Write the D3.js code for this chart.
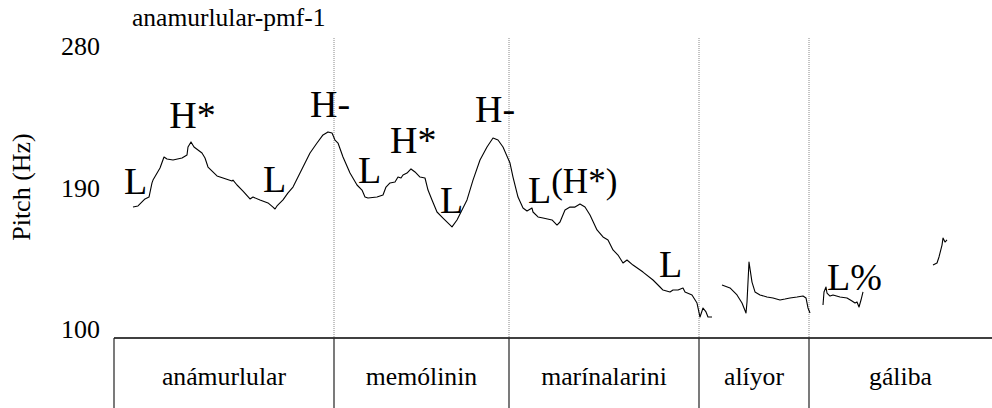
<!DOCTYPE html>
<html><head><meta charset="utf-8">
<script src="https://cdn.jsdelivr.net/npm/d3@7"></script>
<style>body{margin:0;background:#fff}svg{display:block}</style>
</head><body><div id="chart"></div>
<script>
const title = "anamurlular-pmf-1";
const yTicks = [100, 190, 280];
const yLabel = "Pitch (Hz)";
const words = ["anámurlular", "memólinin", "marínalarini", "alíyor", "gáliba"];
const boundaries = [0, 0.660, 1.185, 1.755, 2.085, 2.634];
// pitch contour segments: [time (s), F0 (Hz)]
const seg1 = [[0.057,182.4],[0.072,183.1],[0.093,187.5],[0.105,188.7],[0.114,197.6],[0.117,199.4],[0.138,207.0],[0.150,213.9],[0.159,212.7],[0.177,212.0],[0.204,213.3],[0.219,215.2],[0.222,220.2],[0.231,223.4],[0.240,220.2],[0.264,216.4],[0.273,213.3],[0.282,207.6],[0.309,202.0],[0.327,200.7],[0.354,198.8],[0.357,199.4],[0.369,196.3],[0.387,192.5],[0.408,187.5],[0.417,188.7],[0.438,186.9],[0.462,185.0],[0.477,182.4],[0.483,181.2],[0.489,183.1],[0.507,186.9],[0.522,191.3],[0.537,195.0],[0.552,201.3],[0.567,207.6],[0.588,216.4],[0.609,222.7],[0.627,227.8],[0.642,229.7],[0.654,229.0],[0.663,224.6],[0.672,222.7],[0.687,213.9],[0.708,203.8],[0.729,196.3],[0.744,193.1],[0.753,188.7],[0.762,188.1],[0.789,188.7],[0.807,190.0],[0.816,195.0],[0.828,197.6],[0.843,198.2],[0.852,201.3],[0.861,200.7],[0.867,202.6],[0.879,203.8],[0.891,206.4],[0.903,204.5],[0.918,201.3],[0.933,200.7],[0.942,193.1],[0.954,186.9],[0.969,179.3],[0.987,175.5],[1.014,169.9],[1.029,174.3],[1.044,180.6],[1.059,186.9],[1.077,199.4],[1.098,212.0],[1.119,220.2],[1.137,225.9],[1.152,224.6],[1.167,220.2],[1.188,210.1],[1.197,201.3],[1.212,188.7],[1.227,181.8],[1.239,179.9],[1.254,181.8],[1.257,179.3],[1.272,176.2],[1.287,175.5],[1.314,174.3],[1.329,171.1],[1.338,173.0],[1.353,180.6],[1.368,182.4],[1.383,182.4],[1.398,184.3],[1.413,182.4],[1.428,177.4],[1.449,168.0],[1.467,163.6],[1.482,161.7],[1.497,155.4],[1.512,152.2],[1.527,147.2],[1.539,149.1],[1.557,145.9],[1.587,141.5],[1.617,136.5],[1.638,132.1],[1.647,130.2],[1.668,129.0],[1.677,130.2],[1.692,130.2],[1.707,131.5],[1.713,129.0],[1.734,127.1],[1.749,122.0],[1.758,113.2],[1.767,118.9],[1.776,116.4],[1.782,113.2],[1.794,113.2]];
const seg2 = [[1.824,133.4],[1.848,131.5],[1.869,127.1],[1.884,122.0],[1.896,115.7],[1.899,122.7],[1.905,147.8],[1.914,135.2],[1.923,129.0],[1.938,127.1],[1.959,125.8],[1.977,125.2],[1.998,123.9],[2.013,124.5],[2.028,125.2],[2.049,125.8],[2.067,126.4],[2.076,125.2],[2.082,118.9],[2.088,115.7]];
const seg3 = [[2.127,120.8],[2.130,129.0],[2.136,132.1],[2.139,128.3],[2.148,126.4],[2.157,127.1],[2.178,125.8],[2.199,125.2],[2.214,123.3],[2.223,122.0],[2.229,122.7],[2.235,119.5],[2.241,123.9],[2.247,129.0]];
const seg4 = [[2.457,145.9],[2.469,147.2],[2.475,151.0],[2.484,158.5],[2.487,162.9],[2.493,160.4],[2.499,161.7]];
const segments = [seg1, seg2, seg3, seg4];
// tone labels: text, time, Hz (anchor: left / baseline), optional raised part
const toneText = ["L","H*","L","H-","L","H*","L","H-","L","L","L%"];
const toneTime = [0.030,0.166,0.447,0.588,0.732,0.828,0.978,1.083,1.242,1.635,2.139];
const toneHz   = [190.6,232.2,191.9,239.1,197.6,216.4,178.7,235.9,185.0,138.4,130.2];
const toneSup  = ["","","","","","","","","(H*)","",""];

const W = 992, H = 408;
const font = "'Liberation Serif','Times New Roman',Times,serif";
const svg = d3.select("#chart").append("svg").attr("width", W).attr("height", H)
  .style("font-family", font);

const x = d3.scaleLinear().domain([0, 2.634]).range([114, 992]);
const y = d3.scaleLinear().domain([100, 280]).range([338, 52]);
const yLab = d3.scaleLinear().domain([100, 280]).range([338, 55]);

// dotted word boundaries
svg.selectAll("line.bd").data(boundaries.slice(1, -1)).join("line")
  .attr("x1", d => x(d)).attr("x2", d => x(d))
  .attr("y1", 38).attr("y2", y(100))
  .attr("stroke", "#888").attr("stroke-width", 1).attr("stroke-dasharray", "1,1");

// pitch contour
const line = d3.line().x(d => x(d[0])).y(d => y(d[1]));
svg.selectAll("path.f0").data(segments).join("path")
  .attr("d", line).attr("fill", "none").attr("stroke", "#000")
  .attr("stroke-width", 1.1).attr("stroke-linejoin", "round");

// y tick labels
svg.selectAll("text.yt").data(yTicks).join("text")
  .attr("x", 100).attr("y", d => yLab(d)).attr("text-anchor", "end")
  .attr("font-size", 26).text(d => d);

// y axis label
svg.append("text").attr("transform", "translate(30,187) rotate(-90)")
  .attr("text-anchor", "middle").attr("font-size", 26).text(yLabel);

// title
svg.append("text").attr("x", 132).attr("y", 26).attr("font-size", 25.5).text(title);

// tone labels
const tl = svg.selectAll("text.tone").data(toneText.map((t, i) => ({t, i}))).join("text")
  .attr("x", d => x(toneTime[d.i])).attr("y", d => y(toneHz[d.i]))
  .attr("font-size", 38);
tl.append("tspan").text(d => d.t);
tl.filter(d => toneSup[d.i]).append("tspan")
  .attr("font-size", 35).attr("dy", -10)
  .text(d => toneSup[d.i]);

// word tier
svg.append("line").attr("x1", x(0)).attr("x2", x(2.634)).attr("y1", y(100)).attr("y2", y(100))
  .attr("stroke", "#000").attr("stroke-width", 1.5);
svg.selectAll("line.tb").data(boundaries.slice(0, -1)).join("line")
  .attr("x1", d => x(d)).attr("x2", d => x(d)).attr("y1", y(100)).attr("y2", H)
  .attr("stroke", "#222").attr("stroke-width", 1.2);
svg.selectAll("text.word").data(words).join("text")
  .attr("x", (d, i) => (x(boundaries[i]) + x(boundaries[i + 1])) / 2)
  .attr("y", 385).attr("text-anchor", "middle").attr("font-size", 25.7).text(d => d);
</script></body></html>
